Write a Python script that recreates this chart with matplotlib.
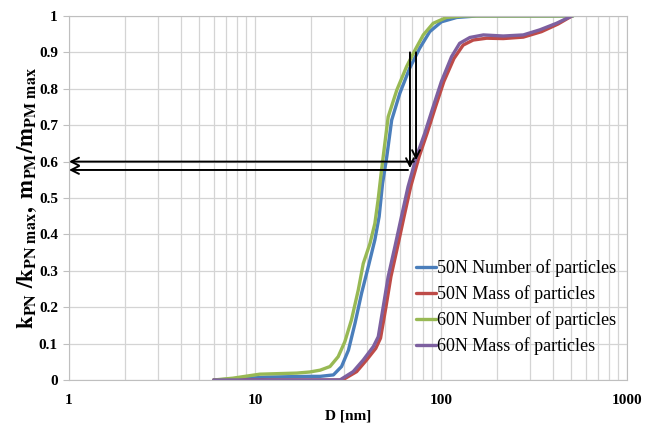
import matplotlib
matplotlib.use("Agg")
import matplotlib.pyplot as plt
from matplotlib.ticker import LogLocator, NullFormatter, FixedLocator

plt.rcParams['font.family'] = ['Liberation Serif', 'DejaVu Serif']
plt.rcParams['mathtext.fontset'] = 'stix'

# particle size distributions (D in nm, normalised value)
d_50n_num = [6, 8, 11.6, 19.7, 22.4, 26.4, 29.2, 31.8, 34.5, 37.4, 40.6, 44.1, 46.5, 48.5,
             51.1, 54.3, 60.1, 67.9, 76.7, 87.0, 100.5, 121.5, 155, 512]
v_50n_num = [0, 0.003, 0.008, 0.01, 0.01, 0.014, 0.037, 0.082, 0.156, 0.238, 0.31, 0.385, 0.449, 0.54,
             0.613, 0.714, 0.788, 0.857, 0.911, 0.957, 0.984, 0.996, 1.0, 1.0]

d_50n_mass = [6, 15, 29.5, 35.2, 39.8, 44.6, 47.3, 50.6, 53.8, 58.4, 63.3, 68.7, 76.2, 84.2,
              93.5, 103.6, 117.3, 131.5, 149, 176, 216, 277, 347, 426, 505]
v_50n_mass = [0, 0, 0, 0.023, 0.055, 0.087, 0.115, 0.201, 0.284, 0.366, 0.449, 0.531, 0.613, 0.678,
              0.751, 0.82, 0.883, 0.92, 0.934, 0.939, 0.938, 0.942, 0.957, 0.978, 1.0]

d_60n_num = [6, 7.6, 10.6, 16.8, 19.7, 22.4, 25.3, 28.0, 30.4, 33.0, 35.9, 38.2, 41.5, 44.1,
             45.9, 47.9, 49.4, 52.0, 57.9, 65.3, 72.6, 80.3, 90.8, 107, 131, 512]
v_60n_num = [0, 0.005, 0.016, 0.019, 0.022, 0.027, 0.037, 0.064, 0.105, 0.165, 0.247, 0.32, 0.375, 0.43,
             0.495, 0.577, 0.632, 0.723, 0.797, 0.861, 0.907, 0.948, 0.98, 0.996, 1.0, 1.0]

d_60n_mass = [6, 15, 28.6, 33.7, 38.2, 43.3, 46.0, 48.9, 52.0, 56.5, 61.3, 66.5, 73.7, 81.8,
              90.8, 100.5, 113.9, 126, 143, 169, 216, 277, 340, 418, 505]
v_60n_mass = [0, 0, 0, 0.023, 0.055, 0.092, 0.119, 0.201, 0.284, 0.366, 0.449, 0.531, 0.613, 0.678,
              0.751, 0.82, 0.888, 0.925, 0.941, 0.948, 0.945, 0.948, 0.962, 0.98, 1.0]

series_labels = ["50N Number of particles", "50N Mass of particles",
                 "60N Number of particles", "60N Mass of particles"]
series_colors = ["#4a7ebb", "#be4b48", "#98b954", "#7d60a0"]

# arrows (start -> end) in data coordinates
arrows = [((68.1, 0.9), (68.1, 0.582)),
          ((73.4, 0.9), (73.4, 0.604)),
          ((71.5, 0.6), (1.0, 0.6)),
          ((66.5, 0.577), (1.0, 0.577))]

fig = plt.figure(figsize=(6.47, 4.26), dpi=100)
ax = fig.add_axes([69 / 647, 1 - 380 / 426, (627 - 69) / 647, (380 - 16) / 426])

xs = [d_50n_num, d_50n_mass, d_60n_num, d_60n_mass]
ys = [v_50n_num, v_50n_mass, v_60n_num, v_60n_mass]
for x, y, lab, col in zip(xs, ys, series_labels, series_colors):
    ax.plot(x, y, color=col, lw=2.4, label=lab, solid_capstyle='round', solid_joinstyle='round')

for start, end in arrows:
    ax.annotate("", xy=end, xytext=start,
                arrowprops=dict(arrowstyle="->", color="black", lw=1.4,
                                mutation_scale=14, shrinkA=0, shrinkB=0))

ax.set_xscale('log')
ax.set_xlim(1, 1000)
ax.set_ylim(0, 1)
ax.xaxis.set_minor_locator(LogLocator(base=10, subs=range(2, 10)))
ax.xaxis.set_minor_formatter(NullFormatter())
ax.set_xticks([1, 10, 100, 1000])
ax.set_xticklabels(["1", "10", "100", "1000"])
ax.yaxis.set_major_locator(FixedLocator([i / 10 for i in range(11)]))
ax.set_yticklabels(["0"] + ["%.1f" % (i / 10) for i in range(1, 10)] + ["1"])

ax.grid(True, which='both', color='#d4d4d4', lw=0.9)
ax.set_axisbelow(True)
for s in ax.spines.values():
    s.set_color('#bfbfbf')
ax.tick_params(axis='both', which='both', labelsize=11, colors='#bfbfbf', labelcolor='black')
ax.tick_params(axis='x', which='both', length=0, pad=10)
ax.tick_params(axis='y', length=4, pad=4)
for t in ax.get_xticklabels() + ax.get_yticklabels():
    t.set_fontweight('bold')

ax.set_xlabel("D [nm]", fontsize=11, fontweight='bold', labelpad=2)
ax.set_ylabel(r"$\mathbf{k_{PN}\ /k_{PN\ max},\ m_{PM}/m_{PM\ max}}$", fontsize=16.5, labelpad=0)

leg = ax.legend(loc='lower right', bbox_to_anchor=(1.0, 0.038), frameon=False,
                fontsize=13, handlelength=1.1, handletextpad=0.05,
                labelspacing=0.45, borderaxespad=0.2)

fig.savefig("out.png", dpi=100)
